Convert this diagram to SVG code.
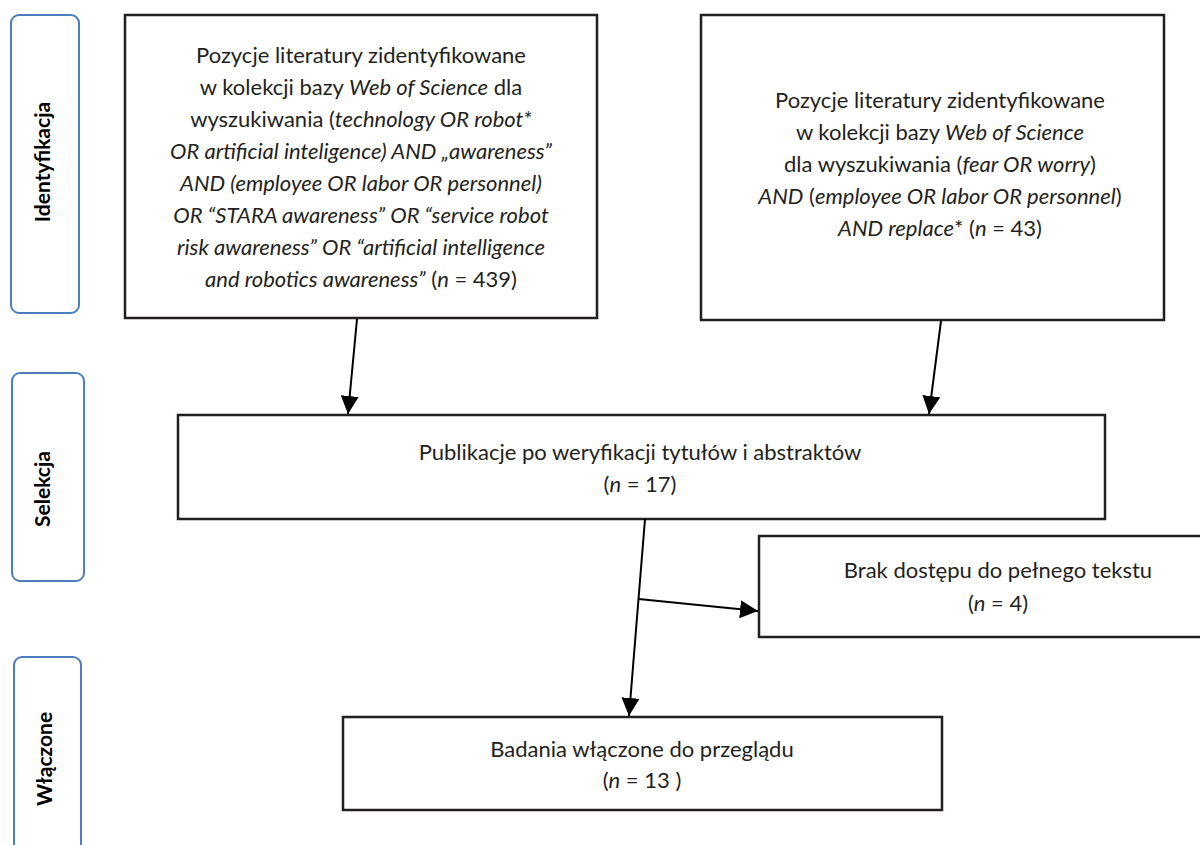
<svg xmlns="http://www.w3.org/2000/svg" width="1200" height="845" viewBox="0 0 1200 845">
<style>
  .box { fill: #ffffff; stroke: #231f20; stroke-width: 2.5; }
  .lbl { fill: #ffffff; stroke: #4a7ebf; stroke-width: 2; }
  .t { font-family: Lato, "Liberation Sans", sans-serif; font-size: 22px; fill: #231f20; text-anchor: middle; }
  .lt { font-family: Lato, "Liberation Sans", sans-serif; font-size: 21px; font-weight: bold; fill: #000000; text-anchor: middle; }
  .i { font-style: italic; }
  .c { stroke: #000000; stroke-width: 2; fill: none; }
</style>
<defs>
  <marker id="arr" markerUnits="userSpaceOnUse" markerWidth="20" markerHeight="20" refX="18" refY="9" orient="auto">
    <path d="M0,0 L18,9 L0,18 Z" fill="#000000"/>
  </marker>
</defs>
<rect width="1200" height="845" fill="#ffffff"/>

<g id="label-identyfikacja">
  <rect class="lbl" x="11" y="15" width="68" height="298" rx="8"/>
  <text class="lt" transform="translate(50,162) rotate(-90)">Identyfikacja</text>
</g>
<g id="label-selekcja">
  <rect class="lbl" x="12" y="373" width="72" height="208" rx="8"/>
  <text class="lt" transform="translate(50,489) rotate(-90)">Selekcja</text>
</g>
<g id="label-wlaczone">
  <rect class="lbl" x="14" y="657" width="67" height="200" rx="8"/>
  <text class="lt" transform="translate(52,759) rotate(-90)">Włączone</text>
</g>

<g id="box-wos1">
  <rect class="box" x="125" y="15" width="472" height="303"/>
  <text class="t" x="361" y="63">Pozycje literatury zidentyfikowane</text>
  <text class="t" x="361" y="95">w kolekcji bazy <tspan class="i">Web of Science</tspan> dla</text>
  <text class="t" x="361" y="127">wyszukiwania (<tspan class="i">technology OR robot*</tspan></text>
  <text class="t i" x="361" y="159">OR artificial inteligence) AND „awareness”</text>
  <text class="t i" x="361" y="191">AND (employee OR labor OR personnel)</text>
  <text class="t i" x="361" y="223">OR “STARA awareness” OR “service robot</text>
  <text class="t i" x="361" y="255">risk awareness” OR “artificial intelligence</text>
  <text class="t" x="361" y="287"><tspan class="i">and robotics awareness”</tspan> (<tspan class="i">n</tspan> = 439)</text>
</g>

<g id="box-wos2">
  <rect class="box" x="701" y="15" width="463" height="305"/>
  <text class="t" x="940" y="108">Pozycje literatury zidentyfikowane</text>
  <text class="t" x="940" y="140">w kolekcji bazy <tspan class="i">Web of Science</tspan></text>
  <text class="t" x="940" y="172">dla wyszukiwania (<tspan class="i">fear OR worry</tspan>)</text>
  <text class="t" x="940" y="204"><tspan class="i">AND</tspan> (<tspan class="i">employee OR labor OR personnel</tspan>)</text>
  <text class="t" x="940" y="236"><tspan class="i">AND replace</tspan>* (<tspan class="i">n</tspan> = 43)</text>
</g>

<g id="box-selekcja">
  <rect class="box" x="178" y="415" width="927" height="104"/>
  <text class="t" x="640" y="460">Publikacje po weryfikacji tytułów i abstraktów</text>
  <text class="t" x="640" y="492">(<tspan class="i">n</tspan> = 17)</text>
</g>

<g id="box-brak">
  <rect class="box" x="759" y="536" width="460" height="101"/>
  <text class="t" x="998" y="578">Brak dostępu do pełnego tekstu</text>
  <text class="t" x="998" y="611">(<tspan class="i">n</tspan> = 4)</text>
</g>

<g id="box-badania">
  <rect class="box" x="343" y="717" width="599" height="93"/>
  <text class="t" x="642" y="757">Badania włączone do przeglądu</text>
  <text class="t" x="642" y="788">(<tspan class="i">n</tspan> = 13 )</text>
</g>

<g id="connectors">
  <line class="c" x1="357" y1="319" x2="348" y2="414" marker-end="url(#arr)"/>
  <line class="c" x1="941" y1="321" x2="929" y2="414" marker-end="url(#arr)"/>
  <line class="c" x1="645" y1="519" x2="629" y2="716" marker-end="url(#arr)"/>
  <line class="c" x1="638.5" y1="599" x2="758" y2="611" marker-end="url(#arr)"/>
</g>
</svg>
